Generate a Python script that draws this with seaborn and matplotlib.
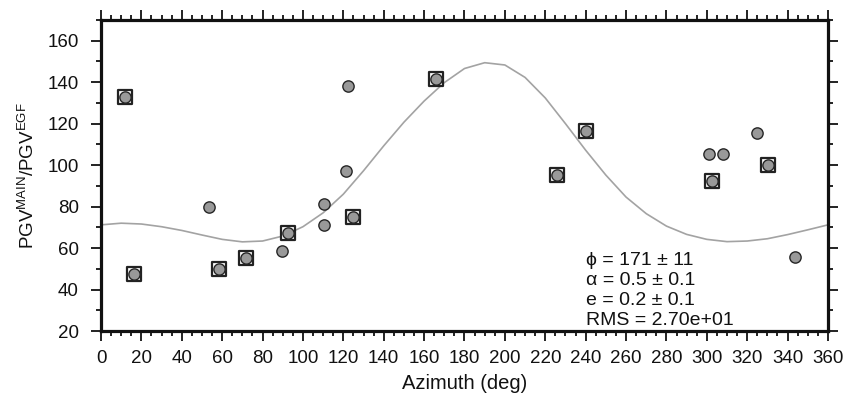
import numpy as np
import pandas as pd
import seaborn as sns
import matplotlib
matplotlib.use("Agg")
import matplotlib.pyplot as plt
from matplotlib.ticker import MultipleLocator

# observed PGV ratios vs azimuth
azimuth = [11.9, 16.3, 58.6, 71.7, 92.6, 124.6, 165.9, 225.7, 240.2, 302.6, 330.2,
           53.3, 89.6, 110.5, 110.5, 121.5, 122.2, 301.0, 308.2, 324.9, 343.7]
ratio = [133.0, 47.5, 50.1, 55.1, 67.5, 75.2, 141.6, 95.2, 116.3, 92.5, 99.9,
         80.0, 58.6, 81.2, 70.9, 97.3, 138.4, 105.4, 105.4, 115.7, 55.6]
boxed = [True] * 11 + [False] * 10

# fitted curve, every 10 deg
fit_az = [0, 10, 20, 30, 40, 50, 60, 70, 80, 90, 100, 110, 120, 130, 140, 150, 160, 170, 180,
          190, 200, 210, 220, 230, 240, 250, 260, 270, 280, 290, 300, 310, 320, 330, 340, 350, 360]
fit_val = [71.2, 72.0, 71.6, 70.3, 68.5, 66.3, 64.2, 63.0, 63.4, 65.8, 70.3, 77.0, 86.0, 97.3,
           109.3, 120.7, 130.9, 139.8, 146.6, 149.4, 148.3, 142.3, 132.4, 120.0, 107.2, 95.2,
           84.6, 76.6, 70.6, 66.6, 64.2, 63.1, 63.4, 64.5, 66.5, 68.8, 71.2]

fit_text = ["\u03d5 = 171 \u00b1 11", "\u03b1 = 0.5 \u00b1 0.1", "e = 0.2 \u00b1 0.1", "RMS = 2.70e+01"]

df = pd.DataFrame({"az": azimuth, "ratio": ratio, "boxed": boxed})
fit = pd.DataFrame({"az": fit_az, "val": fit_val})

sns.set_style("ticks")
plt.rcParams["font.family"] = ["Liberation Sans", "DejaVu Sans"]
plt.rcParams["mathtext.default"] = "regular"
plt.rcParams["text.color"] = "#111111"
plt.rcParams["axes.labelcolor"] = "#111111"
plt.rcParams["xtick.labelcolor"] = "#111111"
plt.rcParams["ytick.labelcolor"] = "#111111"

fig = plt.figure(figsize=(8.46, 3.99), dpi=100)
ax = fig.add_axes([0.1194, 0.1704, 0.8593, 0.7795])

sns.lineplot(data=fit, x="az", y="val", color="#a3a3a3", linewidth=1.2, ax=ax, zorder=2)
sns.scatterplot(data=df[df.boxed], x="az", y="ratio", marker="s", s=95, facecolor="white",
                edgecolor="#222222", linewidth=1.6, ax=ax, zorder=3)
sns.scatterplot(data=df, x="az", y="ratio", marker="o", s=66, color="#999999",
                edgecolor="#262626", linewidth=1.0, ax=ax, zorder=4)

ax.set_xlim(0, 360)
ax.set_ylim(20, 170)
ax.xaxis.set_major_locator(MultipleLocator(20))
ax.xaxis.set_minor_locator(MultipleLocator(5))
ax.yaxis.set_major_locator(MultipleLocator(20))
ax.yaxis.set_minor_locator(MultipleLocator(10))
ax.set_yticks(np.arange(20, 161, 20))

for sp in ax.spines.values():
    sp.set_visible(True)
    sp.set_linewidth(2.3)
    sp.set_color("#111111")

ax.tick_params(which="both", direction="out", top=True, right=True,
               labeltop=False, labelright=False, color="#111111", width=1.3)
ax.tick_params(which="major", length=7.5, labelsize=13.5, pad=6)
ax.tick_params(axis="y", which="major", pad=8.5)
ax.tick_params(which="minor", length=3.5)

ax.set_xlabel("Azimuth (deg)", fontsize=14.5, labelpad=5)
ax.set_ylabel("PGV$^{MAIN}$/PGV$^{EGF}$", fontsize=13.5, labelpad=7)

ax.text(0.667, 0.008, "\n".join(fit_text), transform=ax.transAxes, ha="left", va="bottom",
        fontsize=14, linespacing=1.22)

fig.savefig("out.png", dpi=100)
